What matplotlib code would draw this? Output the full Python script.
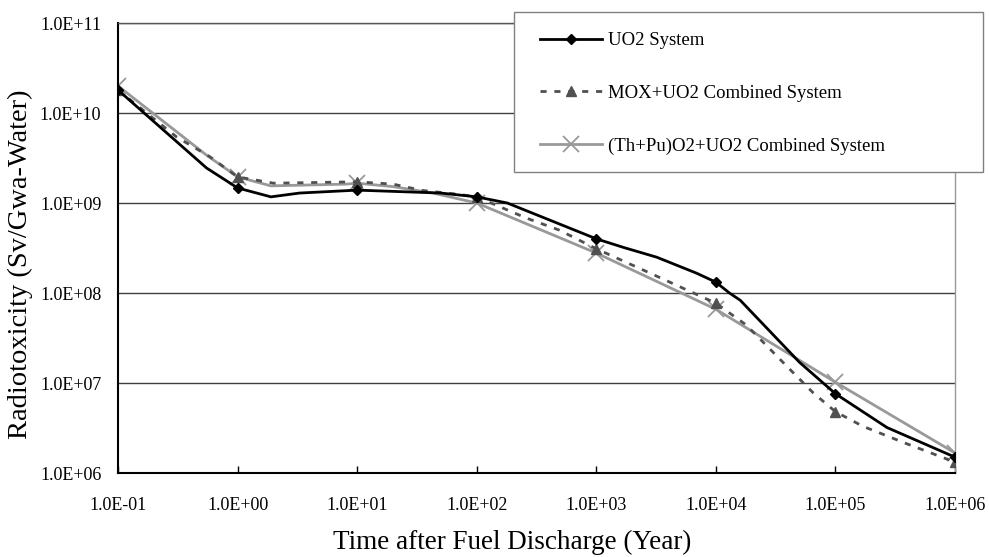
import matplotlib
matplotlib.use('Agg')
import matplotlib.pyplot as plt
from matplotlib.patches import Rectangle

# time after discharge (years) and radiotoxicity (Sv/GWa)
years_uo2 = [0.1, 0.55, 1, 1.9, 3.3, 10, 50, 100, 180, 1000, 1700, 3200,
             6900, 10000, 13000, 16000, 50000, 100000, 270000, 1000000]
tox_uo2 = [1.8e10, 2.45e9, 1.47e9, 1.17e9, 1.29e9, 1.39e9, 1.29e9, 1.17e9,
           1.0e9, 4.0e8, 3.2e8, 2.5e8, 1.66e8, 1.32e8, 1.0e8, 8.3e7,
           1.7e7, 7.6e6, 3.2e6, 1.5e6]

years_mox = [0.1, 0.31, 0.59, 1, 2, 10, 20, 35, 70, 100, 260, 490, 1000,
             3000, 10000, 18000, 42000, 65000, 100000, 170000, 400000,
             1000000]
tox_mox = [1.8e10, 5.4e9, 3.25e9, 1.95e9, 1.66e9, 1.72e9, 1.62e9, 1.38e9,
           1.25e9, 1.17e9, 6.8e8, 5.0e8, 3.1e8, 1.6e8, 7.7e7, 4.4e7, 1.4e7,
           7.8e6, 4.8e6, 3.3e6, 2.1e6, 1.32e6]

years_thpu = [0.1, 0.55, 1, 1.9, 8, 10, 20, 43, 100, 1000, 10000, 100000,
              1000000]
tox_thpu = [2.0e10, 3.4e9, 1.95e9, 1.55e9, 1.62e9, 1.66e9, 1.52e9, 1.29e9,
            1.0e9, 2.78e8, 6.6e7, 1.02e7, 1.67e6]

decades = [0.1, 1, 10, 100, 1000, 10000, 100000, 1000000]
x_tick_labels = ['1.0E-01', '1.0E+00', '1.0E+01', '1.0E+02', '1.0E+03',
                 '1.0E+04', '1.0E+05', '1.0E+06']
y_ticks = [1e6, 1e7, 1e8, 1e9, 1e10, 1e11]
y_tick_labels = ['1.0E+06', '1.0E+07', '1.0E+08', '1.0E+09', '1.0E+10',
                 '1.0E+11']

labels = ['UO2 System', 'MOX+UO2 Combined System',
          '(Th+Pu)O2+UO2 Combined System']

plt.rcParams['font.family'] = ['Liberation Serif', 'DejaVu Serif']


def marker_idx(years):
    return [i for i, y in enumerate(years) if y in decades]


W, H = 989, 557
fig = plt.figure(figsize=(W / 100, H / 100), dpi=100)
ax = fig.add_axes([118 / W, 1 - 473 / H, (955 - 118) / W, (473 - 23) / H])

ax.plot(years_uo2, tox_uo2, color='black', lw=2.0, marker='D', ms=5,
        markevery=marker_idx(years_uo2), label=labels[0], zorder=4)
ax.plot(years_mox, tox_mox, color='#505050', lw=2.0, ls=(0, (2.2, 2.8)),
        marker='^', ms=7, markevery=marker_idx(years_mox), label=labels[1],
        zorder=3)
ax.plot(years_thpu, tox_thpu, color='#999999', lw=2.0, marker='x', ms=11,
        mew=1.3, markevery=marker_idx(years_thpu), label=labels[2],
        zorder=2)

ax.set_xscale('log')
ax.set_yscale('log')
ax.set_xlim(0.1, 1e6)
ax.set_ylim(1e6, 1e11)

ax.set_xticks(decades)
ax.set_xticklabels(x_tick_labels)
ax.set_yticks(y_ticks)
ax.set_yticklabels(y_tick_labels)
ax.minorticks_off()
ax.tick_params(axis='x', direction='in', length=5, width=1, pad=17,
               labelsize=13)
ax.tick_params(axis='y', length=0, pad=12, labelsize=13)

ax.grid(axis='y', color='#404040', lw=1)
ax.set_axisbelow(True)
for side in ('left', 'bottom'):
    ax.spines[side].set_linewidth(1.5)
    ax.spines[side].set_color('black')
ax.spines['top'].set_color('#555555')
ax.spines['top'].set_linewidth(1)
ax.spines['right'].set_color('#999999')
ax.spines['right'].set_linewidth(1)

ax.set_xlabel('Time after Fuel Discharge (Year)', fontsize=19.5)
ax.set_ylabel('Radiotoxicity (Sv/Gwa-Water)', fontsize=20.5)
ax.xaxis.set_label_coords((512 - 118) / 837, (473 - 530) / 450)
ax.yaxis.set_label_coords((33 - 118) / 837, (473 - 264) / 450)

# legend box sits partly outside the axes, drawn in figure coords
fig.patches.append(Rectangle((514 / W, 1 - 172 / H), (983 - 514) / W,
                             (172 - 12) / H, transform=fig.transFigure,
                             facecolor='white', edgecolor='#808080', lw=1,
                             zorder=5))
leg = fig.legend(loc='upper left', bbox_to_anchor=(540 / W, 1 - 32 / H),
                 frameon=False, fontsize=13.5, borderpad=0, borderaxespad=0,
                 handlelength=3.3, handletextpad=0.3, labelspacing=1.9)
leg.set_zorder(6)

fig.savefig('out.png', dpi=100)
